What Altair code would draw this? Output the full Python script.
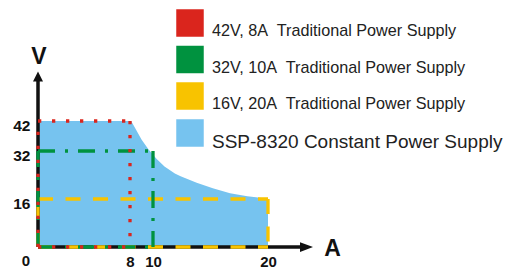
import altair as alt
import pandas as pd

# ---- data ----
supply_labels = [
    "42V, 8A\u00a0 Traditional Power Supply",
    "32V, 10A\u00a0 Traditional Power Supply",
    "16V, 20A\u00a0 Traditional Power Supply",
]
supply_voltage = [42, 32, 16]
supply_current = [8, 10, 20]
supply_colors = ["#DA251D", "#00923F", "#F8C300"]
supply_dashes = [[3.3, 10.7], [17, 10, 3, 10], [15, 12.5]]

ssp_label = "SSP-8320 Constant Power Supply"
ssp_color = "#76C3EF"
ssp_current = [0, 8.1, 8.6, 9.0, 9.6, 10.3, 11.0, 11.9, 12.4, 13.8, 15.2, 16.7, 18.2, 19.3, 20]
ssp_voltage = [42, 42, 38.6, 35.8, 32.6, 29.4, 26.8, 24.5, 23.6, 21.4, 19.6, 17.9, 16.9, 16.4, 16]

x_ticks = [8, 10, 20]
y_ticks = [16, 32, 42]
origin_label = ["0"]
x_title = "A"
y_title = "V"
x_axis_end = 23.0
y_axis_end = 56.0

# ---- tables ----
ssp_df = pd.DataFrame({"current": ssp_current, "voltage": ssp_voltage, "series": ssp_label})

seg_rows = []
for lab, v, i in reversed(list(zip(supply_labels, supply_voltage, supply_current))):
    seg_rows += [
        {"series": lab, "current": 0, "voltage": v, "x2": i, "y2": v},
        {"series": lab, "current": i, "voltage": v, "x2": i, "y2": 0},
        {"series": lab, "current": 0, "voltage": 0, "x2": i, "y2": 0},
        {"series": lab, "current": 0, "voltage": 0, "x2": 0, "y2": v},
    ]
seg_df = pd.DataFrame(seg_rows)

axis_df = pd.DataFrame({"current": [0, 0], "voltage": [0, 0], "x2": [x_axis_end, 0], "y2": [0, y_axis_end]})
up_df = pd.DataFrame({"current": [0], "voltage": [y_axis_end + 0.8]})
right_df = pd.DataFrame({"current": [x_axis_end + 0.35], "voltage": [0]})
origin_df = pd.DataFrame({"current": [0], "voltage": [0], "label": origin_label})

FONT = "Liberation Sans"
xscale = alt.Scale(domain=[0, 475 / 11.5], nice=False, zero=False)
yscale = alt.Scale(domain=[0, 239 / 3.0], nice=False, zero=False)

xaxis = alt.Axis(values=x_ticks, title=x_title, domain=False, ticks=False, grid=False,
                 labelFont=FONT, labelFontWeight="bold", labelFontSize=15, labelColor="#111",
                 labelPadding=7, labelOverlap=False, labelFlush=False,
                 titleFont=FONT, titleFontWeight="bold", titleFontSize=23, titleColor="#111",
                 titleX=294, titleY=1, titleAlign="center", titleBaseline="middle", titleAngle=0)
yaxis = alt.Axis(values=y_ticks, title=y_title, domain=False, ticks=False, grid=False,
                 labelFont=FONT, labelFontWeight="bold", labelFontSize=15.5, labelColor="#111",
                 labelPadding=8, labelOverlap=False, labelFlush=False,
                 labelOffset=4,
                 titleFont=FONT, titleFontWeight="bold", titleFontSize=23, titleColor="#111",
                 titleX=0.5, titleY=48, titleAlign="center", titleBaseline="middle", titleAngle=0)

X = alt.X("current:Q", scale=xscale, axis=xaxis)
Y = alt.Y("voltage:Q", scale=yscale, axis=yaxis)

legend_common = dict(title=None, orient="none", direction="vertical", symbolType="square",
                     symbolSize=756, symbolStrokeWidth=0, labelFont=FONT, labelColor="#222",
                     labelLimit=400, labelOffset=8, labelBaseline="top", padding=0)

area = alt.Chart(ssp_df).mark_area().encode(
    x=X,
    y=Y,
    color=alt.Color("series:N", scale=alt.Scale(domain=[ssp_label], range=[ssp_color]),
                    legend=alt.Legend(legendX=138, legendY=111, labelFontSize=19, **legend_common)),
)

axis_lines = alt.Chart(axis_df).mark_rule(color="#111", strokeWidth=3.5).encode(
    x=X, y=Y, x2="x2:Q", y2="y2:Q",
)

sup_scale = alt.Scale(domain=supply_labels, range=supply_colors)
rules = alt.Chart(seg_df).mark_rule(strokeWidth=3.3, strokeCap="butt").encode(
    x=X, y=Y, x2="x2:Q", y2="y2:Q",
    stroke=alt.Stroke("series:N", scale=sup_scale, legend=None),
    fill=alt.Fill("series:N", scale=sup_scale,
                  legend=alt.Legend(legendX=138, legendY=1, labelFontSize=16.2, rowPadding=5.5,
                                    **legend_common)),
    strokeDash=alt.StrokeDash("series:N", scale=alt.Scale(domain=supply_labels, range=supply_dashes),
                              legend=None),
)

arrow_up = alt.Chart(up_df).mark_point(shape="M0,-1L1,1L-1,1Z", filled=True, size=100,
                                       color="#111", opacity=1).encode(x=X, y=Y)
arrow_right = alt.Chart(right_df).mark_point(shape="M-1,-0.75L1,0L-1,0.75Z", filled=True, size=169,
                                             color="#111", opacity=1).encode(x=X, y=Y)

origin = alt.Chart(origin_df).mark_text(font=FONT, fontWeight="bold", fontSize=15, color="#111",
                                        align="center", baseline="top", dx=-12, dy=7).encode(
    x=X, y=Y, text="label:N")

chart = alt.layer(area, axis_lines, rules, arrow_up, arrow_right, origin).properties(
    width=475, height=239,
    autosize=alt.AutoSizeParams(type="none"),
    padding={"left": 30, "top": 0, "right": 0, "bottom": 22},
    background="white",
).configure_view(stroke=None)

chart.save("out.html", embed_options={"renderer": "svg", "actions": False})
